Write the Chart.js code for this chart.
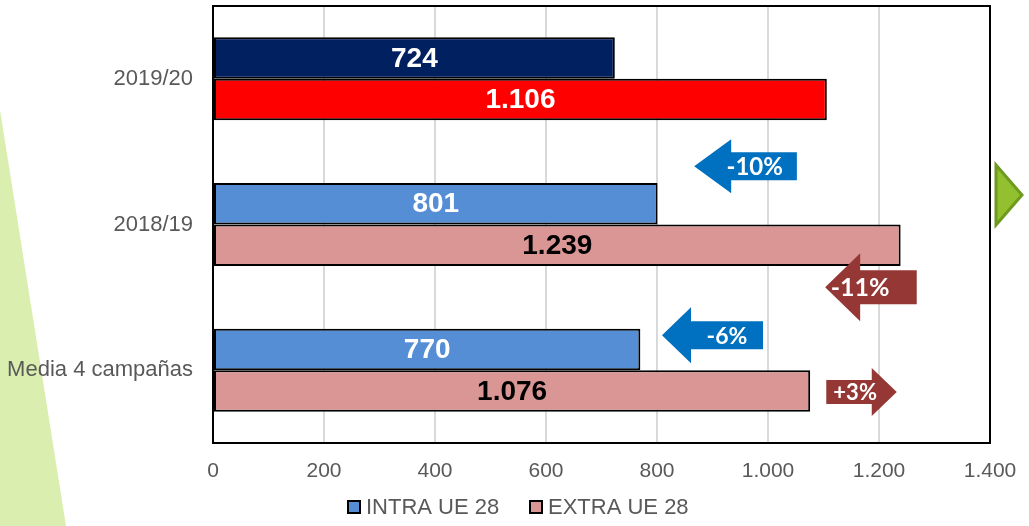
<!DOCTYPE html>
<html>
<head>
<meta charset="utf-8">
<script src="https://cdn.jsdelivr.net/npm/chart.js@4"></script>
<style>
  html, body { margin: 0; padding: 0; background: #fff; }
  #wrap { width: 1029px; height: 526px; position: relative; }
</style>
</head>
<body>
<div id="wrap"><canvas id="barChart"></canvas></div>
<script>
// datos
var categorias = ['2019/20', '2018/19', 'Media 4 campañas'];
var intraUE = [724, 801, 770];
var extraUE = [1106, 1239, 1076];
var ticksX = [0, 200, 400, 600, 800, 1000, 1200, 1400];

// variaciones (texto de las flechas)
var variaciones = ['-10%', '-11%', '-6%', '+3%'];

// colores
var colIntra = ['#002060', '#558ED5', '#558ED5'];
var colExtra = ['#FF0000', '#D99694', '#D99694'];
var colTxtIntra = ['#fff', '#fff', '#fff'];
var colTxtExtra = ['#fff', '#000', '#000'];
var legendFill = ['#558ED5', '#D99694'];

// flechas: punta / cola en unidades del eje, fila en indice de categoria
var flechas = [
  { t: 0, tip: 867, tail: 1052, tx: 976, row: 0.60, hh: 27, bh: 14, hl: 37, fs: 24, color: '#0070C0' },
  { t: 1, tip: 1103, tail: 1268, tx: 1166, row: 1.43, hh: 34, bh: 17, hl: 35, fs: 25, color: '#953735' },
  { t: 2, tip: 809, tail: 991, tx: 926, row: 1.76, hh: 28, bh: 14, hl: 29, fs: 23, color: '#0070C0' },
  { t: 3, tip: 1232, tail: 1105, tx: 1157, row: 2.15, hh: 24, bh: 12, hl: 25, fs: 22, color: '#953735' }
];

function fmt(v) {
  return String(v).replace(/\B(?=(\d{3})+(?!\d))/g, '.');
}

var decoPlugin = {
  id: 'deco',
  beforeDraw: function (chart) {
    var ctx = chart.ctx;
    ctx.save();
    ctx.fillStyle = '#fff';
    ctx.fillRect(0, 0, chart.width, chart.height);
    // triangulo verde izquierdo
    ctx.fillStyle = '#DAEEB0';
    ctx.beginPath();
    ctx.moveTo(0, 110);
    ctx.lineTo(66, 526);
    ctx.lineTo(0, 526);
    ctx.closePath();
    ctx.fill();
    ctx.restore();
  },
  afterDatasetsDraw: function (chart) {
    var ctx = chart.ctx;
    var a = chart.chartArea;
    ctx.save();
    // etiquetas de datos
    ctx.font = 'bold 28px "Liberation Sans", Arial, sans-serif';
    ctx.textAlign = 'center';
    ctx.textBaseline = 'middle';
    chart.data.datasets.forEach(function (ds, i) {
      var meta = chart.getDatasetMeta(i);
      var cols = i === 0 ? colTxtIntra : colTxtExtra;
      meta.data.forEach(function (bar, j) {
        ctx.fillStyle = cols[j];
        ctx.fillText(fmt(ds.data[j]), (bar.x + bar.base) / 2, bar.y + 1);
      });
    });
    // borde del area de trazado
    ctx.strokeStyle = '#000';
    ctx.lineWidth = 2;
    ctx.strokeRect(a.left, a.top, a.right - a.left, a.bottom - a.top);

    // flechas
    var sx = chart.scales.x, sy = chart.scales.y;
    flechas.forEach(function (f) {
      var tip = sx.getPixelForValue(f.tip);
      var tail = sx.getPixelForValue(f.tail);
      var cy = sy.getPixelForValue(f.row);
      var dir = tail > tip ? 1 : -1;
      var base = tip + dir * f.hl;
      ctx.fillStyle = f.color;
      ctx.beginPath();
      ctx.moveTo(tip, cy);
      ctx.lineTo(base, cy - f.hh);
      ctx.lineTo(base, cy - f.bh);
      ctx.lineTo(tail, cy - f.bh);
      ctx.lineTo(tail, cy + f.bh);
      ctx.lineTo(base, cy + f.bh);
      ctx.lineTo(base, cy + f.hh);
      ctx.closePath();
      ctx.fill();
      ctx.fillStyle = '#fff';
      ctx.font = 'bold ' + f.fs + 'px Lato, "Open Sans", sans-serif';
      ctx.fillText(variaciones[f.t], sx.getPixelForValue(f.tx), cy + 1);
    });

    // triangulo verde derecho
    ctx.fillStyle = '#92C02E';
    ctx.strokeStyle = '#6E9A1E';
    ctx.lineWidth = 3;
    ctx.beginPath();
    ctx.moveTo(996, 165);
    ctx.lineTo(1022, 195);
    ctx.lineTo(996, 225);
    ctx.closePath();
    ctx.fill();
    ctx.stroke();

    // leyenda
    var ly = 507, lx = [348, 530];
    ctx.font = '22px "Liberation Sans", Arial, sans-serif';
    ctx.textAlign = 'left';
    chart.data.datasets.forEach(function (ds, i) {
      ctx.fillStyle = legendFill[i];
      ctx.fillRect(lx[i], ly - 6, 12, 12);
      ctx.strokeStyle = '#000';
      ctx.lineWidth = 2;
      ctx.strokeRect(lx[i], ly - 6, 12, 12);
      ctx.fillStyle = '#595959';
      ctx.fillText(ds.label, lx[i] + 18, ly + 1);
    });
    ctx.restore();
  }
};

var barData = {
  labels: categorias,
  datasets: [{
    label: 'INTRA UE 28',
    data: intraUE,
    backgroundColor: colIntra,
    borderColor: '#000',
    borderWidth: 2,
    borderSkipped: false
  }, {
    label: 'EXTRA UE 28',
    data: extraUE,
    backgroundColor: colExtra,
    borderColor: '#000',
    borderWidth: 2,
    borderSkipped: false
  }]
};

new Chart(document.getElementById('barChart').getContext('2d'), {
  type: 'bar',
  data: barData,
  plugins: [decoPlugin],
  options: {
    indexAxis: 'y',
    responsive: true,
    maintainAspectRatio: false,
    animation: false,
    categoryPercentage: 0.57,
    barPercentage: 1.0,
    layout: { padding: { left: 0, right: 39, top: 6, bottom: 0 } },
    scales: {
      x: {
        min: 0,
        max: 1400,
        afterBuildTicks: function (s) { s.ticks = ticksX.map(function (v) { return { value: v }; }); },
        afterFit: function (s) { s.height = 83; s.paddingLeft = 0; s.paddingRight = 0; },
        grid: { color: '#D9D9D9', lineWidth: 2, drawTicks: false },
        border: { display: false },
        ticks: {
          padding: 16,
          color: '#595959',
          font: { family: '"Liberation Sans", Arial, sans-serif', size: 21 },
          callback: function (v) { return fmt(v); }
        }
      },
      y: {
        afterFit: function (s) { s.width = 213; s.paddingTop = 0; s.paddingBottom = 0; },
        grid: { display: false, drawTicks: false },
        border: { display: false },
        ticks: {
          padding: 20,
          color: '#595959',
          font: { family: '"Liberation Sans", Arial, sans-serif', size: 22 }
        }
      }
    },
    plugins: {
      tooltip: { enabled: false },
      legend: { display: false }
    }
  }
});
</script>
</body>
</html>
